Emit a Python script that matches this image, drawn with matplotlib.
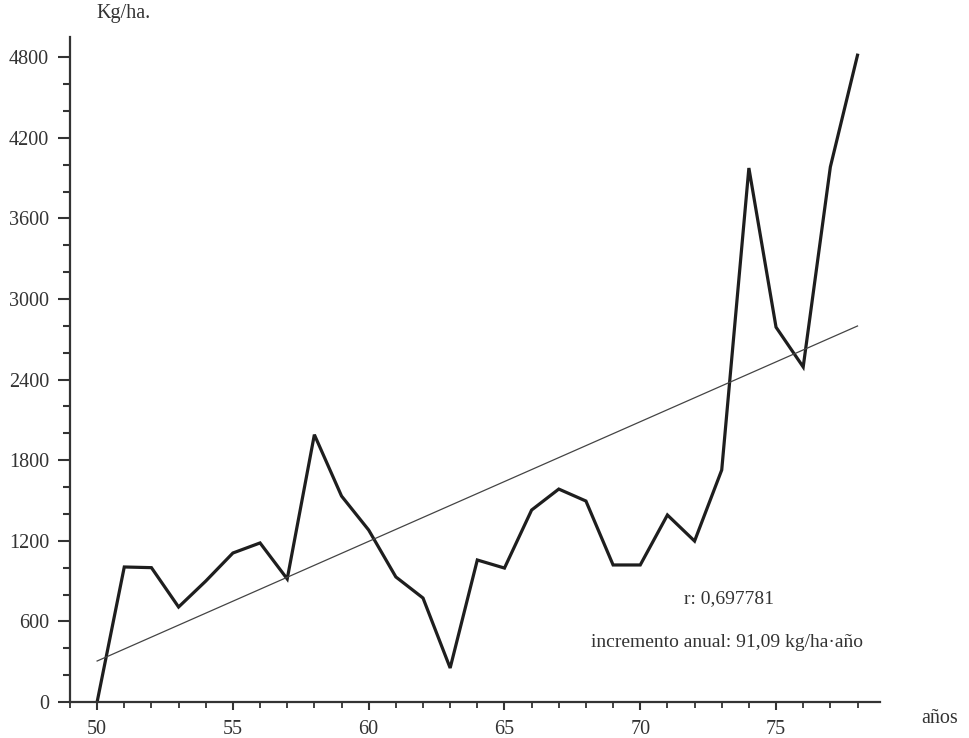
import matplotlib.pyplot as plt
from matplotlib.ticker import MultipleLocator

plt.rcParams['font.family'] = ['Liberation Serif', 'DejaVu Serif']

# rendimiento anual (kg/ha)
anios = list(range(50, 79))
rend = [0, 1005, 1000, 707, 900, 1109, 1184, 916, 1990, 1533, 1280,
        931, 774, 253, 1057, 997, 1429, 1585, 1496, 1020, 1020,
        1392, 1198, 1727, 3975, 2790, 2494, 3983, 4815]

# recta de regresion (extremos)
trend_x = [50, 78]
trend_y = [305, 2799]

fig = plt.figure(figsize=(9.69, 7.38), dpi=100)
ax = fig.add_axes([0.0722, 0.0488, 0.836, 0.901])

ax.plot(anios, rend, color='#1e1e1e', lw=2.3, solid_joinstyle='miter')
ax.plot(trend_x, trend_y, color='#444444', lw=0.9)

ax.set_xlim(49.0, 78.83)
ax.set_ylim(0, 4950)

ax.spines['top'].set_visible(False)
ax.spines['right'].set_visible(False)
ax.spines['left'].set_linewidth(1.6)
ax.spines['bottom'].set_linewidth(1.6)
ax.spines['left'].set_color('#333333')
ax.spines['bottom'].set_color('#333333')

ax.yaxis.set_major_locator(MultipleLocator(600))
ax.yaxis.set_minor_locator(MultipleLocator(200))
ax.xaxis.set_major_locator(MultipleLocator(5))
ax.xaxis.set_minor_locator(MultipleLocator(1))

ax.tick_params(axis='y', which='major', length=9, width=1.5, pad=6,
               labelsize=14.5, colors='#333333')
ax.tick_params(axis='y', which='minor', length=5, width=1.5, colors='#333333')
ax.tick_params(axis='x', which='major', length=6, width=1.5, pad=7,
               labelsize=14.5, colors='#333333')
ax.tick_params(axis='x', which='minor', length=4, width=1.3, colors='#333333')

fig.text(0.127, 0.982, 'Kg/ha.', fontsize=14.5, ha='center', va='center',
         color='#333333')
fig.text(0.970, 0.027, 'años', fontsize=14.5, ha='center', va='center',
         color='#333333')

ax.text(0.752, 0.189, 'r: 0,697781', transform=fig.transFigure,
        fontsize=14, ha='center', va='center', color='#333333')
ax.text(0.750, 0.130, 'incremento anual: 91,09 kg/ha·año',
        transform=fig.transFigure, fontsize=14, ha='center', va='center',
        color='#333333')

fig.savefig('out.png', dpi=100)
